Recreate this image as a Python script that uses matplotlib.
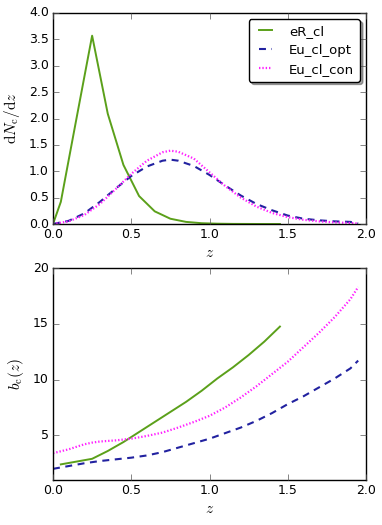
import matplotlib
matplotlib.use("Agg")
import matplotlib.pyplot as plt

plt.style.use("classic")
plt.rcParams["mathtext.fontset"] = "cm"
plt.rcParams["font.family"] = ["DejaVu Sans"]

# dN/dz panel
z_er = [0.0, 0.05, 0.15, 0.25, 0.35, 0.45, 0.55, 0.65, 0.75, 0.85, 0.95,
        1.05, 1.15, 1.25, 1.35, 1.45]
dn_er = [0.0, 0.42, 2.0, 3.57, 2.09, 1.12, 0.53, 0.24, 0.10, 0.04, 0.015,
         0.006, 0.002, 0.001, 0.0, 0.0]

z_eu = [0.0, 0.1, 0.2, 0.3, 0.4, 0.5, 0.6, 0.7, 0.75, 0.8, 0.9, 1.0, 1.1,
        1.2, 1.3, 1.4, 1.5, 1.6, 1.7, 1.8, 1.9, 1.95]
dn_opt = [0.0, 0.06, 0.2, 0.42, 0.67, 0.91, 1.09, 1.2, 1.22, 1.2, 1.1, 0.93,
          0.73, 0.54, 0.38, 0.26, 0.16, 0.1, 0.07, 0.05, 0.04, 0.01]
dn_con = [0.0, 0.05, 0.17, 0.38, 0.66, 0.95, 1.2, 1.36, 1.39, 1.37, 1.24,
          0.98, 0.72, 0.5, 0.33, 0.21, 0.13, 0.08, 0.05, 0.03, 0.02, 0.01]

# bias panel
z_er_b = [0.05, 0.25, 0.35, 0.45, 0.55, 0.65, 0.75, 0.85, 0.95, 1.05, 1.15,
          1.25, 1.35, 1.45]
b_er = [2.4, 2.9, 3.6, 4.4, 5.3, 6.2, 7.1, 8.0, 9.0, 10.1, 11.1, 12.2,
        13.4, 14.75]

z_b = [0.0, 0.1, 0.2, 0.25, 0.3, 0.4, 0.5, 0.6, 0.7, 0.8, 0.9, 1.0, 1.1, 1.2,
       1.3, 1.4, 1.5, 1.6, 1.7, 1.8, 1.9, 1.95]
b_opt = [2.0, 2.25, 2.5, 2.6, 2.7, 2.85, 3.0, 3.2, 3.5, 3.9, 4.3, 4.7, 5.2,
         5.7, 6.3, 7.0, 7.8, 8.5, 9.3, 10.1, 11.0, 11.7]
b_con = [3.4, 3.75, 4.2, 4.35, 4.45, 4.55, 4.7, 4.95, 5.25, 5.7, 6.2, 6.75,
         7.5, 8.4, 9.4, 10.5, 11.6, 12.9, 14.2, 15.6, 17.2, 18.3]

green = "#5ba01a"
blue = "#2222a0"
magenta = "#ff22ff"
dash = (5, 4)
dot = (1, 1.4)

fig = plt.figure(figsize=(3.82, 5.25), dpi=100, facecolor="white")
ax1 = fig.add_axes([53 / 382, 1 - 224 / 525, 313 / 382, 211 / 525])
ax2 = fig.add_axes([53 / 382, 1 - 480 / 525, 313 / 382, 212 / 525])

ax1.plot(z_er, dn_er, "-", color=green, lw=1.4, label="eR_cl")
ax1.plot(z_eu, dn_opt, "--", dashes=dash, color=blue, lw=1.5, label="Eu_cl_opt")
ax1.plot(z_eu, dn_con, ":", dashes=dot, color=magenta, lw=1.6, label="Eu_cl_con")
ax1.set_xlim(0, 2)
ax1.set_ylim(0, 4)
ax1.set_xticks([0, 0.5, 1.0, 1.5, 2.0])
ax1.set_yticks([0, 0.5, 1, 1.5, 2, 2.5, 3, 3.5, 4])
ax1.set_xlabel(r"$z$", fontsize=11, labelpad=3)
ax1.set_ylabel(r"$\mathrm{d}N_\mathrm{c}/\mathrm{d}z$", fontsize=11)
leg = ax1.legend(loc="upper right", fontsize=9.5, fancybox=True, shadow=True,
                 handlelength=1.6, handletextpad=1.0, borderpad=0.45,
                 labelspacing=0.45, borderaxespad=0.45)

ax2.plot(z_er_b, b_er, "-", color=green, lw=1.4)
ax2.plot(z_b, b_opt, "--", dashes=dash, color=blue, lw=1.5)
ax2.plot(z_b, b_con, ":", dashes=dot, color=magenta, lw=1.6)
ax2.set_xlim(0, 2)
ax2.set_ylim(1, 20)
ax2.set_xticks([0, 0.5, 1.0, 1.5, 2.0])
ax2.set_yticks([5, 10, 15, 20])
ax2.set_xlabel(r"$z$", fontsize=11, labelpad=3)
ax2.set_ylabel(r"$b_\mathrm{c}(z)$", fontsize=11)

for ax in (ax1, ax2):
    ax.tick_params(labelsize=9, direction="in", length=4, color="#555555", pad=3)
    ax.xaxis.set_major_formatter(plt.FormatStrFormatter("%.1f"))
    for s in ax.spines.values():
        s.set_linewidth(1.0)
ax1.yaxis.set_major_formatter(plt.FormatStrFormatter("%.1f"))
ax2.yaxis.set_major_formatter(plt.FormatStrFormatter("%d"))

fig.savefig("out.png", dpi=100, facecolor="white")
